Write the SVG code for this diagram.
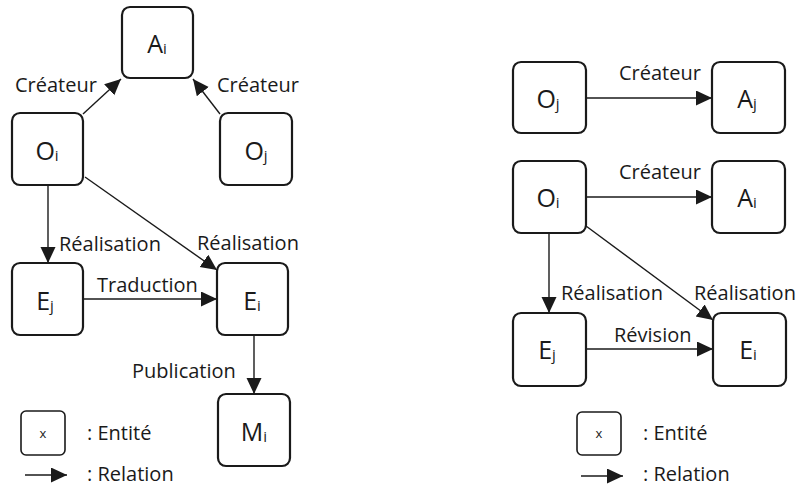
<svg xmlns="http://www.w3.org/2000/svg" width="799" height="486" viewBox="0 0 799 486">
  <style>
    .box { fill: #ffffff; stroke: #1a1a1a; stroke-width: 2.2; }
    .lbl { font-family: "Open Sans", "Liberation Sans", sans-serif; font-size: 25px; fill: #1a1a1a; text-anchor: middle; }
    .sub { font-size: 15px; }
    .rel { font-family: "Open Sans", "Liberation Sans", sans-serif; font-size: 20px; fill: #1a1a1a; }
    .edge { stroke: #1a1a1a; stroke-width: 1.4; fill: none; marker-end: url(#tip); }
    .legx { font-family: "Open Sans", "Liberation Sans", sans-serif; font-size: 13px; fill: #1a1a1a; text-anchor: middle; }
  </style>
  <defs>
    <marker id="tip" markerUnits="userSpaceOnUse" markerWidth="17" markerHeight="16" refX="16" refY="7.5" orient="auto">
      <path d="M0,0 L16,7.5 L0,15 Z" fill="#1a1a1a"/>
    </marker>
  </defs>
  <rect width="799" height="486" fill="#ffffff"/>

  <!-- left graph: connectors -->
  <g id="edges-left">
    <line class="edge" x1="83" y1="114" x2="121" y2="79"/>
    <line class="edge" x1="220" y1="114" x2="193" y2="79"/>
    <line class="edge" x1="48" y1="185" x2="48" y2="263"/>
    <line class="edge" x1="85" y1="177" x2="217" y2="270"/>
    <line class="edge" x1="83" y1="299" x2="217" y2="299"/>
    <line class="edge" x1="254" y1="335" x2="254" y2="394"/>
    <text class="rel" x="15" y="92">Créateur</text>
    <text class="rel" x="217" y="92">Créateur</text>
    <text class="rel" x="59" y="251">Réalisation</text>
    <text class="rel" x="197" y="250">Réalisation</text>
    <text class="rel" x="97" y="292">Traduction</text>
    <text class="rel" x="132" y="378">Publication</text>
  </g>

  <!-- left graph: nodes -->
  <g id="node-left-Ai">
    <rect class="box" x="122" y="7" width="71" height="71" rx="8"/>
    <text class="lbl" x="157" y="53">A<tspan class="sub" dy="1">i</tspan></text>
  </g>
  <g id="node-left-Oi">
    <rect class="box" x="12" y="113" width="71" height="72" rx="8"/>
    <text class="lbl" x="47" y="160">O<tspan class="sub" dy="1">i</tspan></text>
  </g>
  <g id="node-left-Oj">
    <rect class="box" x="220" y="113" width="72" height="72" rx="8"/>
    <text class="lbl" x="256" y="160">O<tspan class="sub" dy="1">j</tspan></text>
  </g>
  <g id="node-left-Ej">
    <rect class="box" x="12" y="263" width="71" height="72" rx="8"/>
    <text class="lbl" x="45" y="310">E<tspan class="sub" dy="1">j</tspan></text>
  </g>
  <g id="node-left-Ei">
    <rect class="box" x="217" y="263" width="71" height="72" rx="8"/>
    <text class="lbl" x="252" y="310">E<tspan class="sub" dy="1">i</tspan></text>
  </g>
  <g id="node-left-Mi">
    <rect class="box" x="218" y="394" width="72" height="72" rx="8"/>
    <text class="lbl" x="254" y="441">M<tspan class="sub" dy="1">i</tspan></text>
  </g>

  <!-- left legend -->
  <g id="legend-left">
    <rect class="box" x="21" y="411" width="44" height="44" rx="5" style="stroke-width:1.6"/>
    <text class="legx" x="43" y="438">x</text>
    <text class="rel" x="87" y="440">: Entité</text>
    <line class="edge" x1="25" y1="475" x2="67" y2="475"/>
    <text class="rel" x="87" y="481">: Relation</text>
  </g>

  <!-- right graph: connectors -->
  <g id="edges-right">
    <line class="edge" x1="586" y1="98" x2="712" y2="98"/>
    <line class="edge" x1="586" y1="197" x2="712" y2="197"/>
    <line class="edge" x1="549" y1="233" x2="549" y2="313"/>
    <line class="edge" x1="586" y1="226" x2="713" y2="320"/>
    <line class="edge" x1="586" y1="349" x2="713" y2="349"/>
    <text class="rel" x="619" y="80">Créateur</text>
    <text class="rel" x="619" y="179">Créateur</text>
    <text class="rel" x="561" y="300">Réalisation</text>
    <text class="rel" x="694" y="300">Réalisation</text>
    <text class="rel" x="614" y="342">Révision</text>
  </g>

  <!-- right graph: nodes -->
  <g id="node-right-Oj">
    <rect class="box" x="513" y="62" width="73" height="71" rx="8"/>
    <text class="lbl" x="548" y="108">O<tspan class="sub" dy="1">j</tspan></text>
  </g>
  <g id="node-right-Aj">
    <rect class="box" x="712" y="62" width="73" height="71" rx="8"/>
    <text class="lbl" x="747" y="108">A<tspan class="sub" dy="1">j</tspan></text>
  </g>
  <g id="node-right-Oi">
    <rect class="box" x="513" y="161" width="73" height="72" rx="8"/>
    <text class="lbl" x="548" y="207">O<tspan class="sub" dy="1">i</tspan></text>
  </g>
  <g id="node-right-Ai">
    <rect class="box" x="712" y="161" width="73" height="72" rx="8"/>
    <text class="lbl" x="747" y="207">A<tspan class="sub" dy="1">i</tspan></text>
  </g>
  <g id="node-right-Ej">
    <rect class="box" x="513" y="313" width="73" height="73" rx="8"/>
    <text class="lbl" x="547" y="359">E<tspan class="sub" dy="1">j</tspan></text>
  </g>
  <g id="node-right-Ei">
    <rect class="box" x="713" y="313" width="73" height="73" rx="8"/>
    <text class="lbl" x="748" y="359">E<tspan class="sub" dy="1">i</tspan></text>
  </g>

  <!-- right legend -->
  <g id="legend-right">
    <rect class="box" x="577" y="412" width="44" height="43" rx="5" style="stroke-width:1.6"/>
    <text class="legx" x="599" y="438">x</text>
    <text class="rel" x="643" y="440">: Entité</text>
    <line class="edge" x1="581" y1="476" x2="623" y2="476"/>
    <text class="rel" x="643" y="481">: Relation</text>
  </g>
</svg>
